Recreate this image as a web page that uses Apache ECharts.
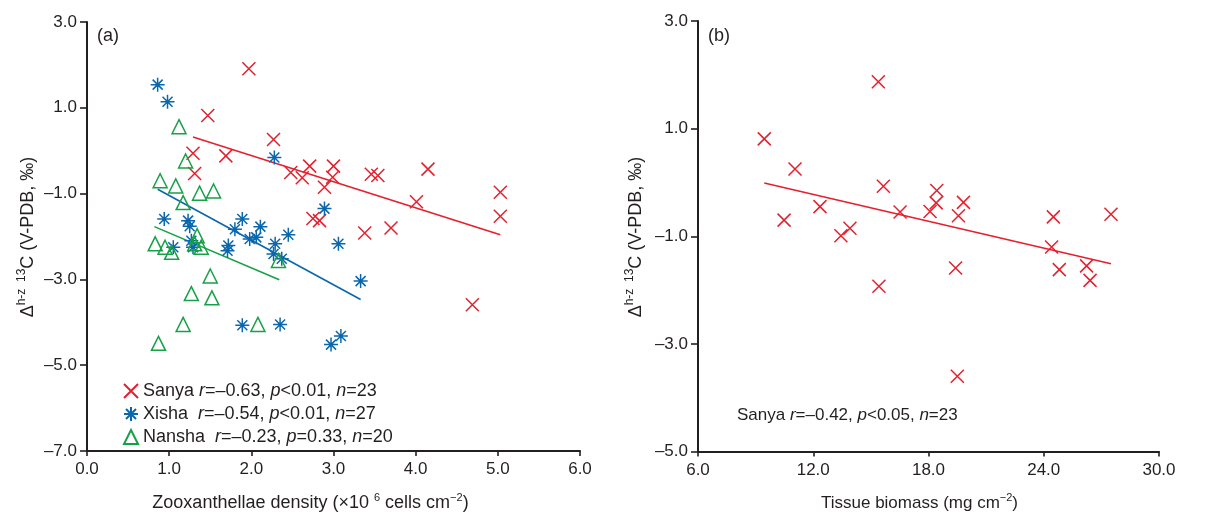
<!DOCTYPE html>
<html>
<head>
<meta charset="utf-8">
<script src="https://cdn.jsdelivr.net/npm/echarts@6/dist/echarts.min.js"></script>
<style>
html,body{margin:0;padding:0;background:#fff;}
#chart{width:1208px;height:517px;}
</style>
</head>
<body>
<div id="chart"></div>
<script>
// ---- Data ----
// Panel (a): zooxanthellae density (x10^6 cells cm-2) vs Δh-z 13C
const sanyaDensity = [1.97,1.47,2.27,1.29,1.69,1.31,2.48,2.71,2.62,3.00,2.99,2.89,3.46,3.54,4.15,4.01,5.03,5.03,2.75,2.83,3.38,3.70,4.69];
const sanyaD13C    = [1.91,0.82,0.26,-0.06,-0.12,-0.53,-0.51,-0.36,-0.63,-0.36,-0.62,-0.85,-0.55,-0.58,-0.43,-1.19,-0.97,-1.53,-1.58,-1.63,-1.92,-1.80,-3.59];
const xishaDensity = [0.86,0.98,2.28,2.89,0.94,1.23,1.25,1.27,1.05,1.29,1.72,1.71,1.89,1.80,2.11,1.98,2.06,2.45,2.29,2.27,2.37,3.06,3.33,1.89,2.35,2.97,3.09];
const xishaD13C    = [1.54,1.14,-0.16,-1.35,-1.59,-1.63,-1.76,-2.10,-2.25,-2.25,-2.21,-2.33,-1.59,-1.83,-1.77,-2.06,-2.02,-1.96,-2.17,-2.41,-2.52,-2.17,-3.04,-4.07,-4.05,-4.52,-4.32];
const nanshaDensity = [1.12,1.20,0.89,1.08,1.37,1.54,1.17,0.83,0.95,1.03,1.34,1.31,1.39,2.33,1.50,1.27,1.52,1.17,2.08,0.87];
const nanshaD13C    = [0.56,-0.24,-0.70,-0.82,-0.99,-0.94,-1.21,-2.17,-2.25,-2.37,-1.98,-2.17,-2.25,-2.56,-2.92,-3.33,-3.43,-4.05,-4.05,-4.49];
// regression line end points
const sanyaFitX = [1.29, 5.03],  sanyaFitY = [0.32, -1.96];
const xishaFitX = [0.86, 3.33],  xishaFitY = [-0.90, -3.47];
const nanshaFitX = [0.82, 2.34], nanshaFitY = [-1.77, -3.01];
// Panel (b): tissue biomass (mg cm-2) vs Δh-z 13C (Sanya)
const biomass      = [9.45,11.05,15.39,15.65,10.48,12.35,13.44,13.91,16.52,18.08,18.43,18.40,19.56,19.82,24.50,27.50,24.41,15.42,19.41,24.81,26.23,26.41,19.50];
const biomassD13C  = [0.81,0.25,1.87,-0.07,-0.70,-0.45,-0.99,-0.85,-0.55,-0.54,-0.15,-0.38,-0.62,-0.37,-0.64,-0.59,-1.20,-1.93,-1.59,-1.62,-1.55,-1.82,-3.60];
const biomassFitX = [9.45, 27.5], biomassFitY = [-0.01, -1.51];
// tick values
const yTicksA = [-7, -5, -3, -1, 1, 3];
const xTicksA = [0, 1, 2, 3, 4, 5, 6];
const yTicksB = [-5, -3, -1, 1, 3];
const xTicksB = [6, 12, 18, 24, 30];
// legend texts
const legendNames = ['Sanya', 'Xisha', 'Nansha'];
const legendStats = {
  Sanya:  ['–0.63', '<0.01', '23'],
  Xisha:  ['–0.54', '<0.01', '27'],
  Nansha: ['–0.23', '=0.33', '20']
};
const statsB = ['–0.42', '<0.05', '23'];

// ---- Helpers ----
const zip = (a, b) => a.map((v, i) => [v, b[i]]);
const RED = '#e5202e', BLUE = '#0a67ad', GREEN = '#17a147', INK = '#231f20';
const FONT = '"Liberation Sans", Arial, sans-serif';
const CROSS = 'path://M0,0L12,12M12,0L0,12';
const STAR = 'path://M7,0L7,14M0,7L14,7M2,2L12,12M12,2L2,12';
const fmt = v => (v < 0 ? '–' + Math.abs(v).toFixed(1) : v.toFixed(1));

function axisCommon(ticks, tickLen, margin) {
  return {
    type: 'value',
    axisLine: { show: true, onZero: false, lineStyle: { color: INK, width: 2 } },
    axisTick: { show: true, length: tickLen, lineStyle: { color: INK, width: 1.6 }, customValues: ticks },
    axisLabel: { color: INK, fontFamily: FONT, fontSize: 17, margin: margin, formatter: fmt, customValues: ticks },
    splitLine: { show: false }
  };
}
function scatter(name, x, y, symbol, color, size, xi) {
  return {
    type: 'scatter', name, xAxisIndex: xi, yAxisIndex: xi,
    data: zip(x, y), symbol, symbolSize: size,
    itemStyle: { color: 'rgba(0,0,0,0)', borderColor: color, borderWidth: 1.5, opacity: 1 },
    emphasis: { disabled: true }, z: 3
  };
}
function fit(x, y, color, xi) {
  return {
    type: 'line', xAxisIndex: xi, yAxisIndex: xi, data: zip(x, y),
    symbol: 'none', lineStyle: { color, width: 1.6 }, silent: true, z: 2
  };
}
const titleRichA = {
  n: { fontSize: 18, fontFamily: FONT, color: INK, fill: INK, lineHeight: 22 },
  s: { fontSize: 11, fontFamily: FONT, color: INK, fill: INK, lineHeight: 22, verticalAlign: 'top', padding: [0, 0, 7, 0] }
};
const titleRichB = {
  n: { fontSize: 17, fontFamily: FONT, color: INK, fill: INK, lineHeight: 22 },
  s: { fontSize: 11, fontFamily: FONT, color: INK, fill: INK, lineHeight: 22, verticalAlign: 'top', padding: [0, 0, 7, 0] }
};
const yRich = {
  n: { fontSize: 18, fontFamily: FONT, color: INK, fill: INK, lineHeight: 24 },
  s: { fontSize: 12, fontFamily: FONT, color: INK, fill: INK, lineHeight: 24, verticalAlign: 'top', padding: [0, 0, 8, 0] }
};
const yTitle = '{n|Δ}{s|h-z  13}{n|C (V-PDB, ‰)}';

const option = {
  animation: false,
  backgroundColor: '#fff',
  grid: [
    { left: 87, right: 628, top: 22, bottom: 64 },
    { left: 698, right: 49, top: 21, bottom: 65 }
  ],
  xAxis: [
    Object.assign(axisCommon(xTicksA, 5, 10), {
      gridIndex: 0, min: 0, max: 6,
      name: '{n|Zooxanthellae density (×10 }{s|6}{n| cells cm}{s|−2}{n|)}',
      nameLocation: 'middle', nameGap: 41,
      nameTextStyle: { rich: titleRichA, padding: [0, 46, 0, 0] }
    }),
    Object.assign(axisCommon(xTicksB, 5, 10), {
      gridIndex: 1, min: 6, max: 30,
      name: '{n|Tissue biomass (mg cm}{s|−2}{n|)}',
      nameLocation: 'middle', nameGap: 41,
      nameTextStyle: { rich: titleRichB, padding: [0, 18, 0, 0] }
    })
  ],
  yAxis: [
    Object.assign(axisCommon(yTicksA, 7, 10), { gridIndex: 0, min: -7, max: 3 }),
    Object.assign(axisCommon(yTicksB, 7, 10), { gridIndex: 1, min: -5, max: 3 })
  ],
  legend: {
    data: legendNames, orient: 'vertical', left: 118, top: 377,
    itemWidth: 14, itemHeight: 14, itemGap: 5, selectedMode: false,
    textStyle: {
      color: INK, fontFamily: FONT, fontSize: 18,
      rich: {
        t: { fontFamily: FONT, fontSize: 18, color: INK },
        i: { fontFamily: FONT, fontSize: 18, color: INK, fontStyle: 'italic' }
      }
    },
    formatter: name => {
      const s = legendStats[name];
      const gap = name === 'Sanya' ? ' ' : '  ';
      return '{t|' + name + gap + '}{i|r}{t|=' + s[0] + ', }{i|p}{t|' + s[1] + ', }{i|n}{t|=' + s[2] + '}';
    }
  },
  graphic: [
    { type: 'text', left: 97, top: 27, style: { text: '(a)', font: '18px ' + FONT, fill: INK } },
    { type: 'text', left: 708, top: 27, style: { text: '(b)', font: '18px ' + FONT, fill: INK } },
    { type: 'text', x: 28, y: 237, rotation: Math.PI / 2,
      style: { text: yTitle, rich: yRich, align: 'center', verticalAlign: 'middle' } },
    { type: 'text', x: 636, y: 237, rotation: Math.PI / 2,
      style: { text: yTitle, rich: yRich, align: 'center', verticalAlign: 'middle' } },
    { type: 'text', left: 737, top: 407,
      style: {
        text: '{t|Sanya }{i|r}{t|=' + statsB[0] + ', }{i|p}{t|' + statsB[1] + ', }{i|n}{t|=' + statsB[2] + '}',
        rich: {
          t: { fontFamily: FONT, fontSize: 17, fill: INK, color: INK },
          i: { fontFamily: FONT, fontSize: 17, fill: INK, color: INK, fontStyle: 'italic' }
        }
      } }
  ],
  series: [
    scatter('Sanya', sanyaDensity, sanyaD13C, CROSS, RED, 13, 0),
    scatter('Xisha', xishaDensity, xishaD13C, STAR, BLUE, 14, 0),
    scatter('Nansha', nanshaDensity, nanshaD13C, 'triangle', GREEN, 14, 0),
    fit(sanyaFitX, sanyaFitY, RED, 0),
    fit(xishaFitX, xishaFitY, BLUE, 0),
    fit(nanshaFitX, nanshaFitY, GREEN, 0),
    scatter('SanyaB', biomass, biomassD13C, CROSS, RED, 13, 1),
    fit(biomassFitX, biomassFitY, RED, 1)
  ]
};
const chart = echarts.init(document.getElementById('chart'), null, { renderer: 'canvas' });
chart.setOption(option);
</script>
</body>
</html>
